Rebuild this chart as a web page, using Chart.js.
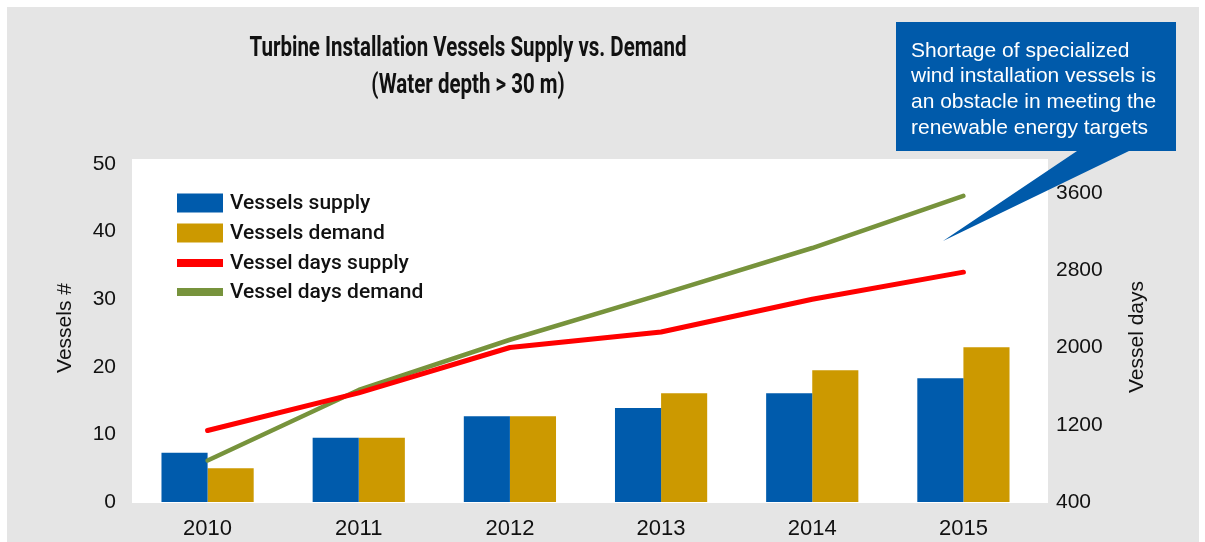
<!DOCTYPE html>
<html>
<head>
<meta charset="utf-8">
<title>Turbine Installation Vessels Supply vs. Demand</title>
<script src="https://cdn.jsdelivr.net/npm/chart.js@4.4.1/dist/chart.umd.min.js"></script>
<style>
  html, body { margin: 0; padding: 0; background: #fff; }
  #wrap { width: 1205px; height: 542px; }
</style>
</head>
<body>
<div id="wrap"><canvas id="chart" width="1205" height="542"></canvas></div>
<script>
// categories and series
const years = ["2010", "2011", "2012", "2013", "2014", "2015"];
const vesselsSupply = [7.3, 9.5, 12.7, 13.9, 16.1, 18.3];
const vesselsDemand = [5.0, 9.5, 12.7, 16.1, 19.5, 22.9];
const daysSupply = [1140, 1530, 2000, 2160, 2500, 2780];
const daysDemand = [830, 1560, 2080, 2550, 3030, 3570];

// axis ticks
const leftTicks = [0, 10, 20, 30, 40, 50];
const rightTicks = [400, 1200, 2000, 2800, 3600];

const titleLines = ["Turbine Installation Vessels Supply vs. Demand", "(Water depth > 30 m)"];
const noteLines = [
  "Shortage of specialized",
  "wind installation vessels is",
  "an obstacle in meeting the",
  "renewable energy targets"
];

const BLUE = "#005BAC";
const GOLD = "#CC9900";
const RED = "#FF0000";
const GREEN = "#77933C";
const PANEL = "#E5E5E5";

const ARIAL = "'Liberation Sans', Arial, sans-serif";
const LEGEND_FONT = "Roboto, 'DejaVu Sans', sans-serif";

// background panel, white plot box, title, legend, axis titles, callout
const decor = {
  id: "decor",
  beforeDraw(chart) {
    const { ctx, chartArea: a } = chart;
    ctx.save();
    ctx.fillStyle = "#fff";
    ctx.fillRect(0, 0, chart.width, chart.height);
    ctx.fillStyle = PANEL;
    ctx.fillRect(7, 7, 1192, 535);
    ctx.fillStyle = "#fff";
    ctx.fillRect(a.left, a.top - 5, a.right - a.left + 9, a.bottom - a.top + 6);

    // condensed title: squeeze a regular face horizontally
    ctx.fillStyle = "#111";
    ctx.textAlign = "center";
    ctx.textBaseline = "middle";
    ctx.font = "bold 27px Roboto, " + ARIAL;
    const sx = 437 / ctx.measureText(titleLines[0]).width;
    ctx.translate(468, 0);
    ctx.scale(sx, 1);
    ctx.fillText(titleLines[0], 0, 49);
    ctx.fillText(titleLines[1], 0, 86);
    ctx.restore();
  },
  afterDraw(chart) {
    const { ctx } = chart;
    ctx.save();

    // legend, built from the datasets
    const rows = [203, 233, 263, 292];
    ctx.font = "500 21px " + LEGEND_FONT;
    ctx.textAlign = "left";
    ctx.textBaseline = "middle";
    chart.data.datasets.slice().sort((p, q) => p.legendIndex - q.legendIndex).forEach((ds, i) => {
      const y = rows[i];
      const isBar = ds.type === "bar";
      const h = isBar ? 19 : 8;
      ctx.fillStyle = isBar ? ds.backgroundColor : ds.borderColor;
      ctx.fillRect(177, y - h / 2, 46, h);
      ctx.fillStyle = "#111";
      ctx.fillText(ds.label, 230, y + 1);
    });

    // axis titles
    ctx.font = "21px " + ARIAL;
    ctx.fillStyle = "#111";
    ctx.textAlign = "center";
    ctx.textBaseline = "middle";
    ctx.save();
    ctx.translate(65, 328);
    ctx.rotate(-Math.PI / 2);
    ctx.fillText("Vessels #", 0, 0);
    ctx.restore();
    ctx.save();
    ctx.translate(1137, 337);
    ctx.rotate(-Math.PI / 2);
    ctx.fillText("Vessel days", 0, 0);
    ctx.restore();

    // callout box with pointer
    ctx.fillStyle = "#005AAA";
    ctx.beginPath();
    ctx.moveTo(896, 22);
    ctx.lineTo(1176, 22);
    ctx.lineTo(1176, 151);
    ctx.lineTo(1129, 151);
    ctx.lineTo(943, 241);
    ctx.lineTo(1077, 151);
    ctx.lineTo(896, 151);
    ctx.closePath();
    ctx.fill();
    ctx.fillStyle = "#fff";
    ctx.font = "21px " + ARIAL;
    ctx.textAlign = "left";
    noteLines.forEach((t, i) => ctx.fillText(t, 911, 51 + i * 25.7));
    ctx.restore();
  }
};

const plainNumber = v => String(v);

new Chart(document.getElementById("chart"), {
  data: {
    labels: years,
    datasets: [
      { type: "line", label: "Vessel days supply", data: daysSupply, yAxisID: "yDays",
        borderColor: RED, borderWidth: 5, borderCapStyle: "round", borderJoinStyle: "round",
        pointRadius: 0, tension: 0, order: 0, legendIndex: 2 },
      { type: "line", label: "Vessel days demand", data: daysDemand, yAxisID: "yDays",
        borderColor: GREEN, borderWidth: 4.5, borderCapStyle: "round", borderJoinStyle: "round",
        pointRadius: 0, tension: 0, order: 1, legendIndex: 3 },
      { type: "bar", label: "Vessels supply", data: vesselsSupply, yAxisID: "yVessels",
        backgroundColor: BLUE, barPercentage: 1, categoryPercentage: 0.61, order: 2, legendIndex: 0 },
      { type: "bar", label: "Vessels demand", data: vesselsDemand, yAxisID: "yVessels",
        backgroundColor: GOLD, barPercentage: 1, categoryPercentage: 0.61, order: 2, legendIndex: 1 }
    ]
  },
  options: {
    responsive: false,
    devicePixelRatio: 1,
    animation: false,
    layout: { padding: { top: 164, left: 0, right: 0, bottom: 0 } },
    plugins: { legend: { display: false }, tooltip: { enabled: false } },
    scales: {
      x: {
        offset: true,
        grid: { display: false },
        border: { display: false },
        ticks: { color: "#111", font: { family: ARIAL, size: 22 }, padding: 6 },
        afterFit(s) { s.height = 40; }
      },
      yVessels: {
        position: "left",
        min: 0, max: 50,
        grid: { display: false },
        border: { display: false },
        ticks: { color: "#111", font: { family: ARIAL, size: 21 }, padding: 8, callback: plainNumber },
        afterBuildTicks(s) { s.ticks = leftTicks.map(v => ({ value: v })); },
        afterFit(s) { s.width = 132; }
      },
      yDays: {
        position: "right",
        min: 400, max: 3900,
        grid: { display: false },
        border: { display: false },
        ticks: { color: "#111", font: { family: ARIAL, size: 21 }, padding: 9, callback: plainNumber },
        afterBuildTicks(s) { s.ticks = rightTicks.map(v => ({ value: v })); },
        afterFit(s) { s.width = 166; }
      }
    }
  },
  plugins: [decor]
});
</script>
</body>
</html>
